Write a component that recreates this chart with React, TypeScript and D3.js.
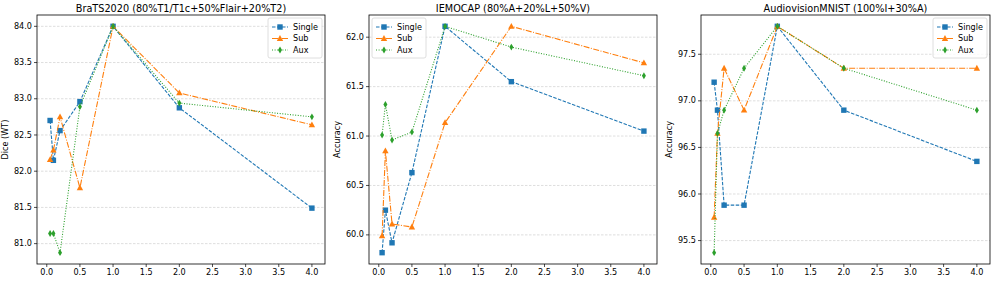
import React from 'react';
import * as d3 from 'd3';

// ratios on the x axis (same for all three panels)
const ratios = [0.05, 0.1, 0.2, 0.5, 1, 2, 4];
const xTicks = [0, 0.5, 1, 1.5, 2, 2.5, 3, 3.5, 4];

// BraTS2020
const bratsSingle = [82.7, 82.15, 82.56, 82.96, 84.0, 82.875, 81.49];
const bratsSub = [82.16, 82.29, 82.75, 81.77, 84.0, 83.08, 82.64];
const bratsAux = [81.14, 81.14, 80.875, 82.89, 84.0, 82.94, 82.75];
const bratsTicks = [81.0, 81.5, 82.0, 82.5, 83.0, 83.5, 84.0];

// IEMOCAP
const iemoSingle = [59.82, 60.25, 59.92, 60.63, 62.11, 61.55, 61.05];
const iemoSub = [59.99, 60.85, 60.11, 60.08, 61.135, 62.11, 61.74];
const iemoAux = [61.01, 61.32, 60.96, 61.04, 62.11, 61.9, 61.61];
const iemoTicks = [60.0, 60.5, 61.0, 61.5, 62.0];

// AudiovisionMNIST
const avSingle = [97.2, 96.9, 95.88, 95.88, 97.8, 96.9, 96.35];
const avSub = [95.75, 96.65, 97.35, 96.9, 97.8, 97.35, 97.35];
const avAux = [95.37, 96.65, 96.9, 97.35, 97.8, 97.35, 96.9];
const avTicks = [95.5, 96.0, 96.5, 97.0, 97.5];

const seriesNames = ['Single', 'Sub', 'Aux'];
const colors = ['#1f77b4', '#ff7f0e', '#2ca02c'];
const dashes = ['3.5,1.5', '6,1.5,1,1.5', '1,1.6'];

const panels = [
  { title: 'BraTS2020 (80%T1/T1c+50%Flair+20%T2)', ylabel: 'Dice (WT)', series: [bratsSingle, bratsSub, bratsAux], yTicks: bratsTicks, left: 37, right: 325, legend: 'right' },
  { title: 'IEMOCAP (80%A+20%L+50%V)', ylabel: 'Accuracy', series: [iemoSingle, iemoSub, iemoAux], yTicks: iemoTicks, left: 369, right: 657, legend: 'left' },
  { title: 'AudiovisionMNIST (100%I+30%A)', ylabel: 'Accuracy', series: [avSingle, avSub, avAux], yTicks: avTicks, left: 701, right: 990, legend: 'right' },
];

const TOP = 15;
const BOTTOM = 264;
const FONT = 'DejaVu Sans, sans-serif';

const Marker = ({ kind, x, y, color }: { kind: number; x: number; y: number; color: string }) => {
  if (kind === 0) return <rect x={x - 2.7} y={y - 2.7} width={5.4} height={5.4} fill={color} />;
  if (kind === 1) return <path d={`M${x},${y - 3.4}L${x + 3.2},${y + 2.4}L${x - 3.2},${y + 2.4}Z`} fill={color} />;
  return <path d={`M${x},${y - 3.4}L${x + 2},${y}L${x},${y + 3.4}L${x - 2},${y}Z`} fill={color} />;
};

const Panel = ({ p }: { p: typeof panels[number] }) => {
  const all = p.series.flat();
  const lo = d3.min(all)!, hi = d3.max(all)!;
  const ym = (hi - lo) * 0.05;
  const xm = (4 - 0.05) * 0.05;
  const x = d3.scaleLinear().domain([0.05 - xm, 4 + xm]).range([p.left, p.right]);
  const y = d3.scaleLinear().domain([lo - ym, hi + ym]).range([BOTTOM, TOP]);
  const line = d3.line<number>().x((_, i) => x(ratios[i])).y(d => y(d));
  const cx = (p.left + p.right) / 2;
  const cy = (TOP + BOTTOM) / 2;
  const lgW = 54, lgH = 40;
  const lgX = p.legend === 'right' ? p.right - 3 - lgW : p.left + 3;
  const lgY = TOP + 3;
  return (
    <g>
      {p.yTicks.map(t => (
        <g key={t}>
          <line x1={p.left} x2={p.right} y1={y(t)} y2={y(t)} stroke="#b0b0b0" strokeOpacity={0.6} strokeWidth={0.7} strokeDasharray="2.5,1.5" />
          <line x1={p.left - 3} x2={p.left} y1={y(t)} y2={y(t)} stroke="#000" strokeWidth={0.7} />
          <text x={p.left - 5} y={y(t)} dy="0.32em" textAnchor="end" fontSize={8.1} fontFamily={FONT}>{d3.format('.1f')(t)}</text>
        </g>
      ))}
      {xTicks.map(t => (
        <g key={t}>
          <line x1={x(t)} x2={x(t)} y1={BOTTOM} y2={BOTTOM + 3} stroke="#000" strokeWidth={0.7} />
          <text x={x(t)} y={BOTTOM + 10.5} textAnchor="middle" fontSize={8.1} fontFamily={FONT}>{d3.format('.1f')(t)}</text>
        </g>
      ))}
      {p.series.map((s, k) => (
        <g key={k}>
          <path d={line(s)!} fill="none" stroke={colors[k]} strokeWidth={1.1} strokeDasharray={dashes[k]} />
          {s.map((v, i) => <Marker key={i} kind={k} x={x(ratios[i])} y={y(v)} color={colors[k]} />)}
        </g>
      ))}
      <rect x={p.left} y={TOP} width={p.right - p.left} height={BOTTOM - TOP} fill="none" stroke="#000" strokeWidth={0.8} />
      <text x={cx} y={TOP - 3.5} textAnchor="middle" fontSize={9.7} fontFamily={FONT}>{p.title}</text>
      <text transform={`translate(${p.left - 29},${cy}) rotate(-90)`} textAnchor="middle" fontSize={8.1} fontFamily={FONT}>{p.ylabel}</text>
      <g>
        <rect x={lgX} y={lgY} width={lgW} height={lgH} rx={2} fill="#fff" fillOpacity={0.8} stroke="#d6d6d6" strokeWidth={0.8} />
        {seriesNames.map((n, k) => {
          const ly = lgY + 9 + k * 11.5;
          return (
            <g key={n}>
              <line x1={lgX + 4} x2={lgX + 20} y1={ly} y2={ly} stroke={colors[k]} strokeWidth={1.1} strokeDasharray={dashes[k]} />
              <Marker kind={k} x={lgX + 12} y={ly} color={colors[k]} />
              <text x={lgX + 25} y={ly} dy="0.35em" fontSize={8.1} fontFamily={FONT}>{n}</text>
            </g>
          );
        })}
      </g>
    </g>
  );
};

export default function App() {
  return (
    <svg width={996} height={281} style={{ position: 'absolute', left: 0, top: 0, background: '#fff' }}>
      <rect width={996} height={281} fill="#fff" />
      {panels.map(p => <Panel key={p.title} p={p} />)}
    </svg>
  );
}
